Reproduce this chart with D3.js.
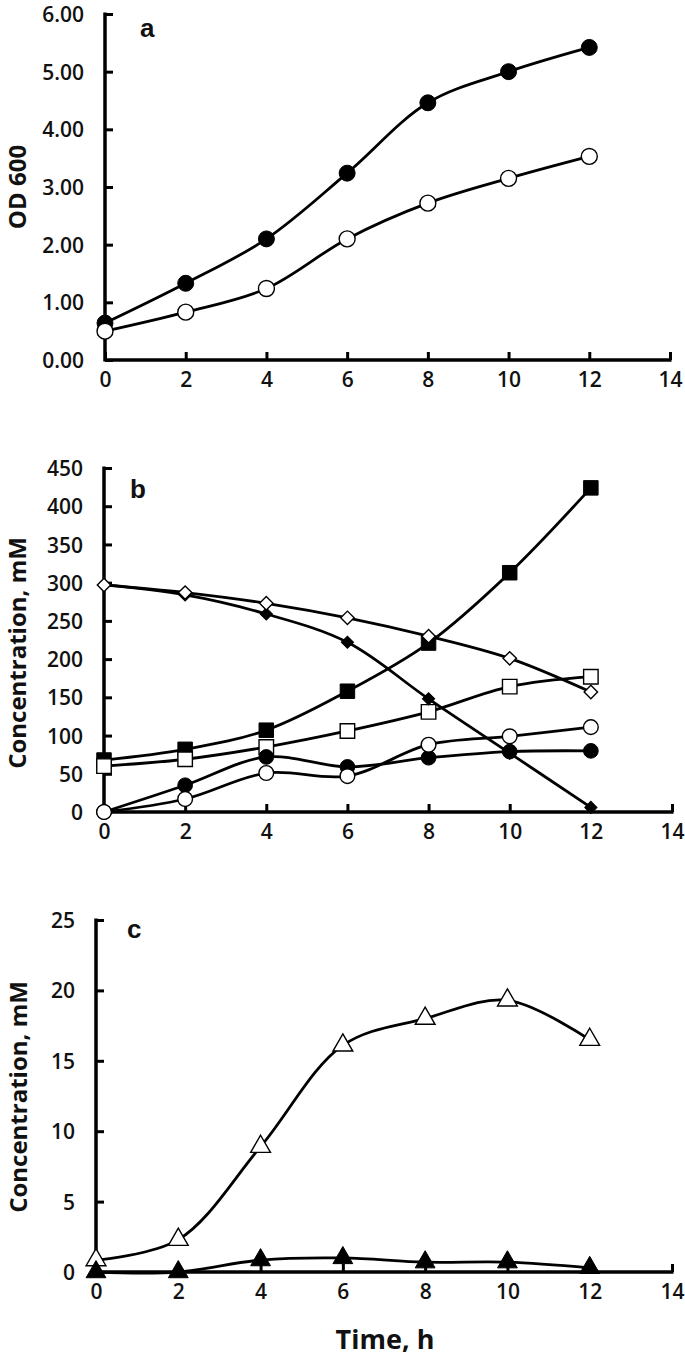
<!DOCTYPE html>
<html><head><meta charset="utf-8">
<script src="https://cdn.jsdelivr.net/npm/d3@7"></script>
<style>
body{margin:0;background:#fff;}
svg{display:block;}
text{font-family:"Open Sans",sans-serif;fill:#111;}
.tick text{font-size:21px;font-weight:600;}
</style></head><body>
<svg id="c" width="685" height="1359"></svg>
<script>
const times = [0, 2, 4, 6, 8, 10, 12];
const xTicks = [0, 2, 4, 6, 8, 10, 12, 14];

// Panel a: OD 600
const odFilled = [0.64, 1.33, 2.10, 3.24, 4.46, 5.00, 5.42];
const odOpen   = [0.50, 0.83, 1.24, 2.10, 2.72, 3.15, 3.53];
const aTicks = [0, 1, 2, 3, 4, 5, 6];

// Panel b: concentration, mM
const bFilledSquare  = [68, 82, 107, 158, 221, 313, 424];
const bOpenSquare    = [60, 69, 85, 106, 131, 164, 177];
const bFilledDiamond = [297, 284, 259, 222, 148, 77, 6];
const bOpenDiamond   = [297, 287, 273, 254, 230, 201, 157];
const bFilledCircle  = [0, 35, 72, 59, 71, 79, 80];
const bOpenCircle    = [0, 17, 51, 47, 88, 99, 111];
const bTicks = [0, 50, 100, 150, 200, 250, 300, 350, 400, 450];

// Panel c: concentration, mM
const cOpenTri   = [0.85, 2.3, 8.9, 16.1, 18.0, 19.3, 16.5];
const cFilledTri = [0, 0, 0.85, 1.0, 0.7, 0.7, 0.3];
const cTicks = [0, 5, 10, 15, 20, 25];

const svg = d3.select("#c");

function panel(cfg){
  const g = svg.append("g");
  const x = d3.scaleLinear().domain([0,14]).range([cfg.x0, cfg.x1]);
  const y = d3.scaleLinear().domain([0,cfg.ymax]).range([cfg.y0, cfg.y1]);
  const ya = g.append("g").attr("transform",`translate(${cfg.x0},0)`)
    .call(d3.axisLeft(y).tickValues(cfg.yticks).tickSize(-8).tickPadding(30).tickFormat(cfg.yfmt));
  const xa = g.append("g").attr("transform",`translate(0,${cfg.y0})`)
    .call(d3.axisBottom(x).tickValues(xTicks).tickSize(-8).tickPadding(20).tickFormat(d3.format("d")));
  [ya,xa].forEach(a=>{
    a.attr("font-size",null).attr("font-family",null);
    a.select(".domain").remove();
    a.selectAll(".tick line").attr("stroke","#000").attr("stroke-width",3);
    a.selectAll(".tick text").attr("fill","#111");
  });
  ya.selectAll(".tick text").attr("x",-21).attr("dy","0.36em");
  xa.selectAll(".tick text").attr("dy","0.71em").attr("y",12);
  g.append("line").attr("x1",cfg.x0).attr("x2",cfg.x0).attr("y1",cfg.y1-1.5).attr("y2",cfg.y0+1.5)
    .attr("stroke","#000").attr("stroke-width",3.5);
  g.append("line").attr("x1",cfg.x0).attr("x2",cfg.x1+1.5).attr("y1",cfg.y0).attr("y2",cfg.y0)
    .attr("stroke","#000").attr("stroke-width",3.5);
  g.append("text").attr("x",cfg.lx).attr("y",cfg.ly).text(cfg.letter)
    .style("font-family","'Liberation Sans',Arial,sans-serif").style("font-weight","700").style("font-size","26px").attr("fill","#000");
  g.append("text").attr("transform",`translate(${cfg.ylx},${cfg.yly}) rotate(-90)`)
    .attr("text-anchor","middle").attr("dy","0.35em").text(cfg.ylabel)
    .style("font-weight","700").style("font-size","24px");
  const line = d3.line().x((d,i)=>x(times[i])).y(d=>y(d)).curve(d3.curveCatmullRom.alpha(0.5));
  cfg.series.forEach(s=>{
    g.append("path").attr("d",line(s.values)).attr("fill","none").attr("stroke","#000").attr("stroke-width",2.8);
  });
  cfg.series.forEach(s=>{
    const sym = d3.symbol().type(s.type).size(s.size);
    g.selectAll(null).data(s.values).join("path")
      .attr("d",sym)
      .attr("transform",(d,i)=>`translate(${x(times[i])},${y(d)})${s.rot||""}`)
      .attr("fill",s.fill).attr("stroke","#000").attr("stroke-width",s.fill==="#fff"?1.4:1);
  });
}

panel({x0:105,x1:670,y0:360,y1:14,ymax:6,yticks:aTicks,yfmt:d3.format(".2f"),
  letter:"a",lx:140,ly:37,ylabel:"OD 600",ylx:18,yly:187,
  series:[
    {values:odFilled,type:d3.symbolCircle,size:200,fill:"#000"},
    {values:odOpen,type:d3.symbolCircle,size:200,fill:"#fff"}
  ]});

panel({x0:104,x1:672,y0:812,y1:468,ymax:450,yticks:bTicks,yfmt:d3.format("d"),
  letter:"b",lx:130,ly:498,ylabel:"Concentration, mM",ylx:18,yly:653,
  series:[
    {values:bFilledSquare,type:d3.symbolSquare,size:210,fill:"#000"},
    {values:bOpenSquare,type:d3.symbolSquare,size:210,fill:"#fff"},
    {values:bFilledDiamond,type:d3.symbolSquare,size:75,fill:"#000",rot:" rotate(45)"},
    {values:bOpenDiamond,type:d3.symbolSquare,size:90,fill:"#fff",rot:" rotate(45)"},
    {values:bFilledCircle,type:d3.symbolCircle,size:170,fill:"#000"},
    {values:bOpenCircle,type:d3.symbolCircle,size:170,fill:"#fff"}
  ]});

panel({x0:96,x1:672,y0:1272,y1:920,ymax:25,yticks:cTicks,yfmt:d3.format("d"),
  letter:"c",lx:127,ly:938,ylabel:"Concentration, mM",ylx:19,yly:1097,
  series:[
    {values:cOpenTri,type:d3.symbolTriangle,size:170,fill:"#fff"},
    {values:cFilledTri,type:d3.symbolTriangle,size:170,fill:"#000"}
  ]});

svg.append("text").attr("x",385).attr("y",1340).attr("text-anchor","middle").attr("dy","0.35em")
  .text("Time, h").style("font-weight","700").style("font-size","27px");
</script>
</body></html>
